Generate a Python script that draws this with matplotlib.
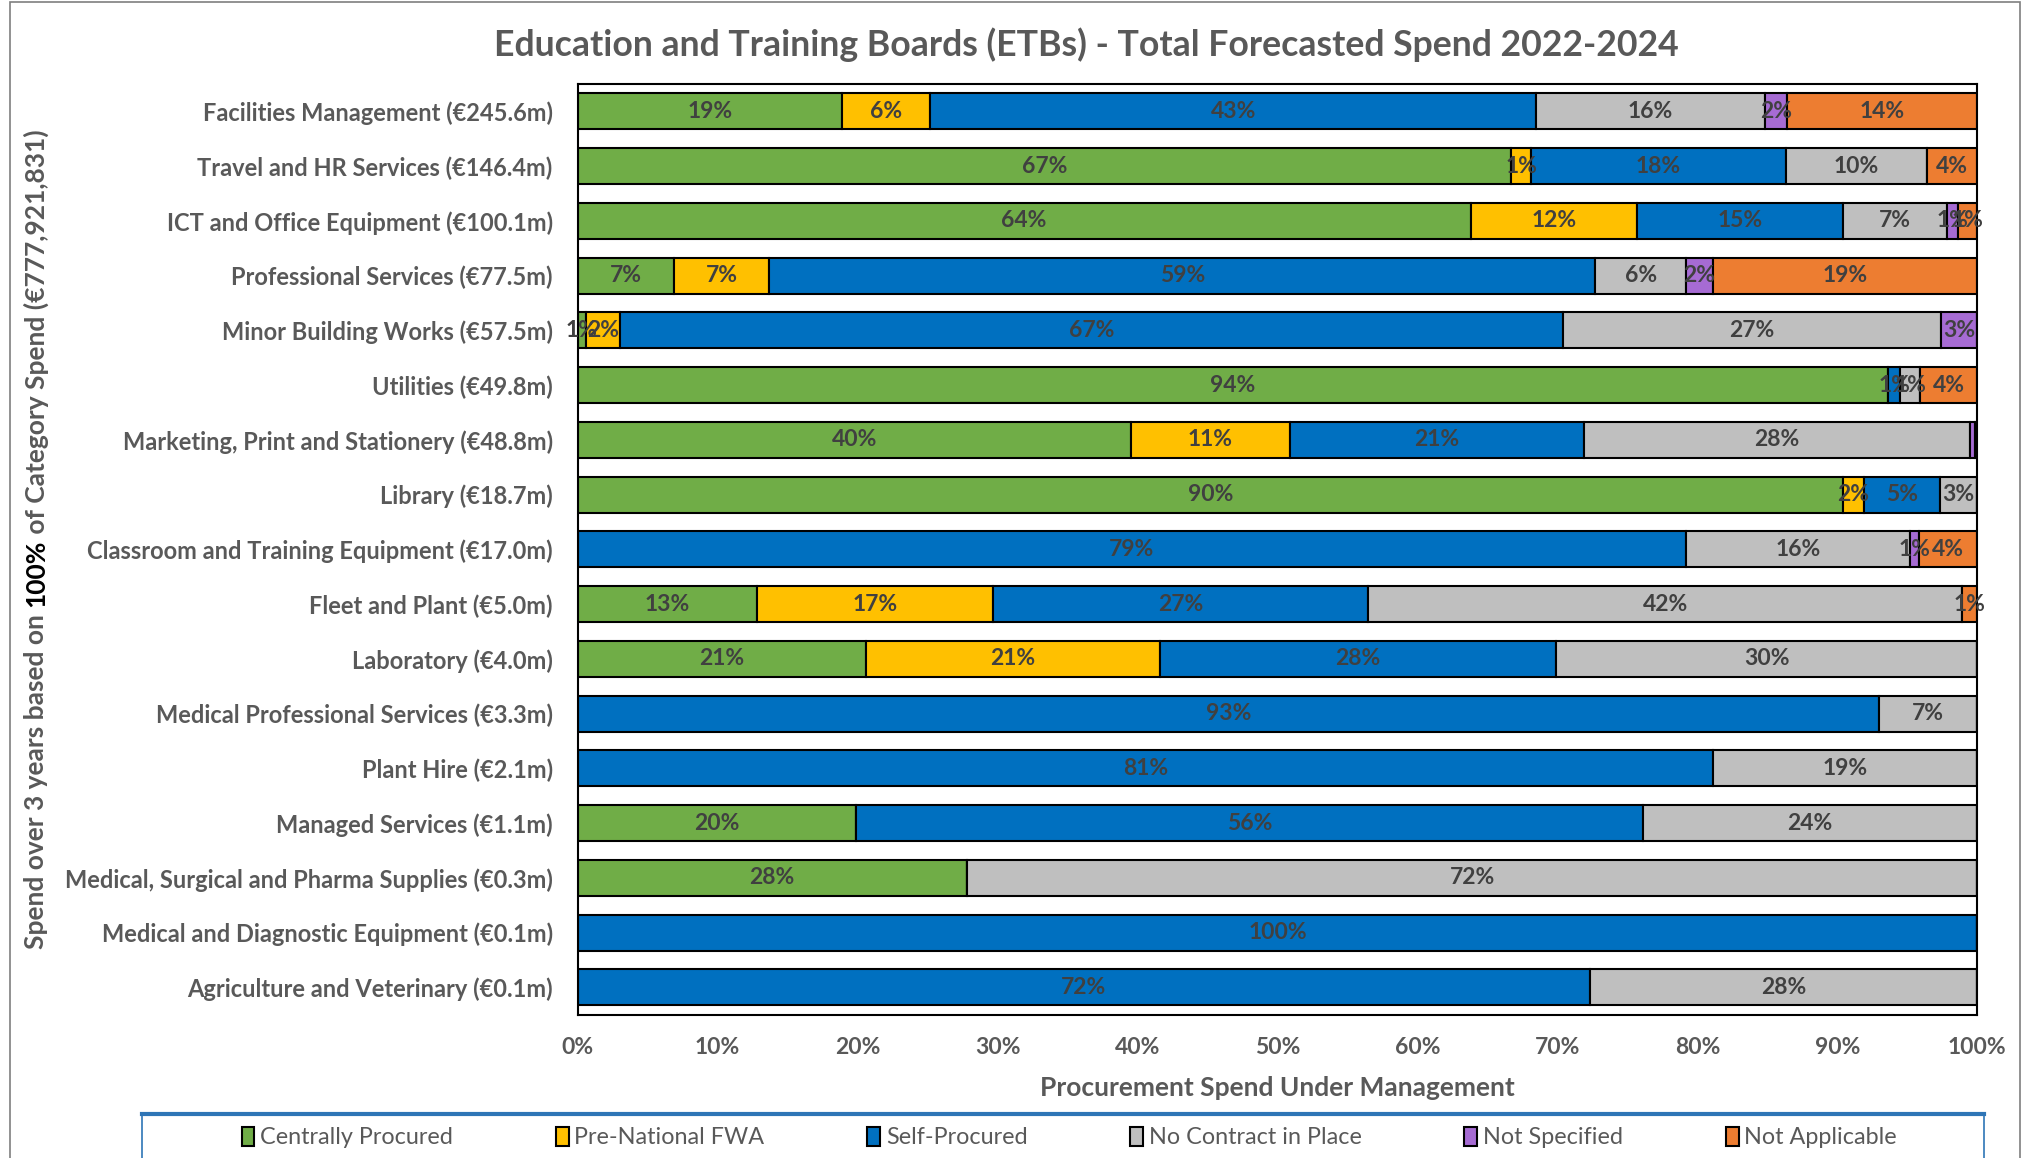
import matplotlib
matplotlib.use("Agg")
import matplotlib.pyplot as plt
import numpy as np
from matplotlib.patches import Rectangle

plt.rcParams["font.family"] = ["Lato", "DejaVu Sans"]

categories = [
    "Facilities Management (€245.6m)",
    "Travel and HR Services (€146.4m)",
    "ICT and Office Equipment (€100.1m)",
    "Professional Services (€77.5m)",
    "Minor Building Works (€57.5m)",
    "Utilities (€49.8m)",
    "Marketing, Print and Stationery (€48.8m)",
    "Library (€18.7m)",
    "Classroom and Training Equipment (€17.0m)",
    "Fleet and Plant (€5.0m)",
    "Laboratory (€4.0m)",
    "Medical Professional Services (€3.3m)",
    "Plant Hire (€2.1m)",
    "Managed Services (€1.1m)",
    "Medical, Surgical and Pharma Supplies (€0.3m)",
    "Medical and Diagnostic Equipment (€0.1m)",
    "Agriculture and Veterinary (€0.1m)",
]

series_names = ["Centrally Procured", "Pre-National FWA", "Self-Procured",
                "No Contract in Place", "Not Specified", "Not Applicable"]

centrally = [18.9, 66.7, 63.8, 6.9, 0.6, 93.6, 39.5, 90.4, 0, 12.8, 20.6, 0, 0, 19.9, 27.8, 0, 0]
pre_fwa = [6.3, 1.4, 11.9, 6.8, 2.4, 0, 11.4, 1.5, 0, 16.9, 21.0, 0, 0, 0, 0, 0, 0]
self_proc = [43.3, 18.2, 14.7, 59.0, 67.4, 0.9, 21.0, 5.4, 79.2, 26.8, 28.3, 93.0, 81.1, 56.2, 0, 100, 72.3]
no_contract = [16.3, 10.1, 7.4, 6.5, 27.0, 1.4, 27.6, 2.7, 16.0, 42.4, 30.1, 7.0, 18.9, 23.9, 72.2, 0, 27.7]
not_specified = [1.6, 0, 0.8, 1.9, 2.6, 0, 0.3, 0, 0.6, 0, 0, 0, 0, 0, 0, 0, 0]
not_applicable = [13.6, 3.6, 1.4, 18.9, 0, 4.1, 0.2, 0, 4.2, 1.1, 0, 0, 0, 0, 0, 0, 0]

colors = ["#70AD47", "#FFC000", "#0070C0", "#BFBFBF", "#A66BD3", "#ED7D31"]

fig = plt.figure(figsize=(20.27, 11.58), dpi=100)
ax = fig.add_axes([0.285, 0.1237, 0.6905, 0.8038])

series = [centrally, pre_fwa, self_proc, no_contract, not_specified, not_applicable]
y = np.arange(len(categories))
left = np.zeros(len(categories))
for name, vals, col in zip(series_names, series, colors):
    vals = np.array(vals, dtype=float)
    ax.barh(y, vals, left=left, height=0.66, color=col, edgecolor="black",
            linewidth=1.5, label=name)
    for yi, v, l in zip(y, vals, left):
        if v >= 0.5:
            ax.text(l + v / 2, yi, f"{v:.0f}%", ha="center", va="center",
                    fontsize=16.5, fontweight="bold", color="#404040")
    left += vals

ax.set_ylim(len(categories) - 0.5, -0.5)
ax.set_xlim(0, 100)
ax.set_yticks(y)
ax.set_yticklabels(categories, fontsize=17, fontweight="bold", color="#595959")
ax.set_xticks(np.arange(0, 101, 10))
ax.set_xticklabels([f"{t}%" for t in range(0, 101, 10)], fontsize=16.5, fontweight="bold",
                   color="#595959")
ax.tick_params(axis="both", length=0)
ax.tick_params(axis="y", pad=18)
ax.tick_params(axis="x", pad=16)
for s in ax.spines.values():
    s.set_color("black")
    s.set_linewidth(1.5)

ax.set_xlabel("Procurement Spend Under Management", fontsize=19, fontweight="bold",
              color="#595959", labelpad=13)

fig.text(0.536, 0.961, "Education and Training Boards (ETBs) - Total Forecasted Spend 2022-2024",
         ha="center", va="center", fontsize=25.7, fontweight="bold", color="#595959")

# y label with bold black "100%"
parts = [("Spend over 3 years based on ", "#595959"), ("100%", "black"),
         (" of Category Spend (€777,921,831)", "#595959")]
fig.canvas.draw()
renderer = fig.canvas.get_renderer()
texts = []
heights = []
for txt, col in parts:
    t = fig.text(0.0178, 0.5, txt, rotation=90, ha="center", va="bottom", fontsize=19,
                 fontweight="bold", color=col)
    texts.append(t)
    heights.append(t.get_window_extent(renderer).height / fig.bbox.height)
ystart = 0.5345 - sum(heights) / 2
for t, h in zip(texts, heights):
    t.set_y(ystart)
    ystart += h

# outer border and legend box
fig.patches.append(Rectangle((0.0049, -0.01), 0.9916, 1.0083, transform=fig.transFigure,
                             fill=False, edgecolor="#7F7F7F", linewidth=1.2))
fig.patches.append(Rectangle((0.070, -0.05), 0.909, 0.088, transform=fig.transFigure,
                             fill=False, edgecolor="#2E75B6", linewidth=1.2))
fig.lines.append(plt.Line2D([0.070, 0.979], [0.038, 0.038], transform=fig.transFigure,
                            color="#2E75B6", linewidth=3))

handles, labels = ax.get_legend_handles_labels()
fig.legend(handles, labels, loc="center", bbox_to_anchor=(0.5275, 0.0175), ncol=6,
           frameon=False, fontsize=16.8, handlelength=0.55, handleheight=0.85,
           handletextpad=0.25, columnspacing=4.4, labelcolor="#595959")

fig.savefig("out.png", dpi=100)
